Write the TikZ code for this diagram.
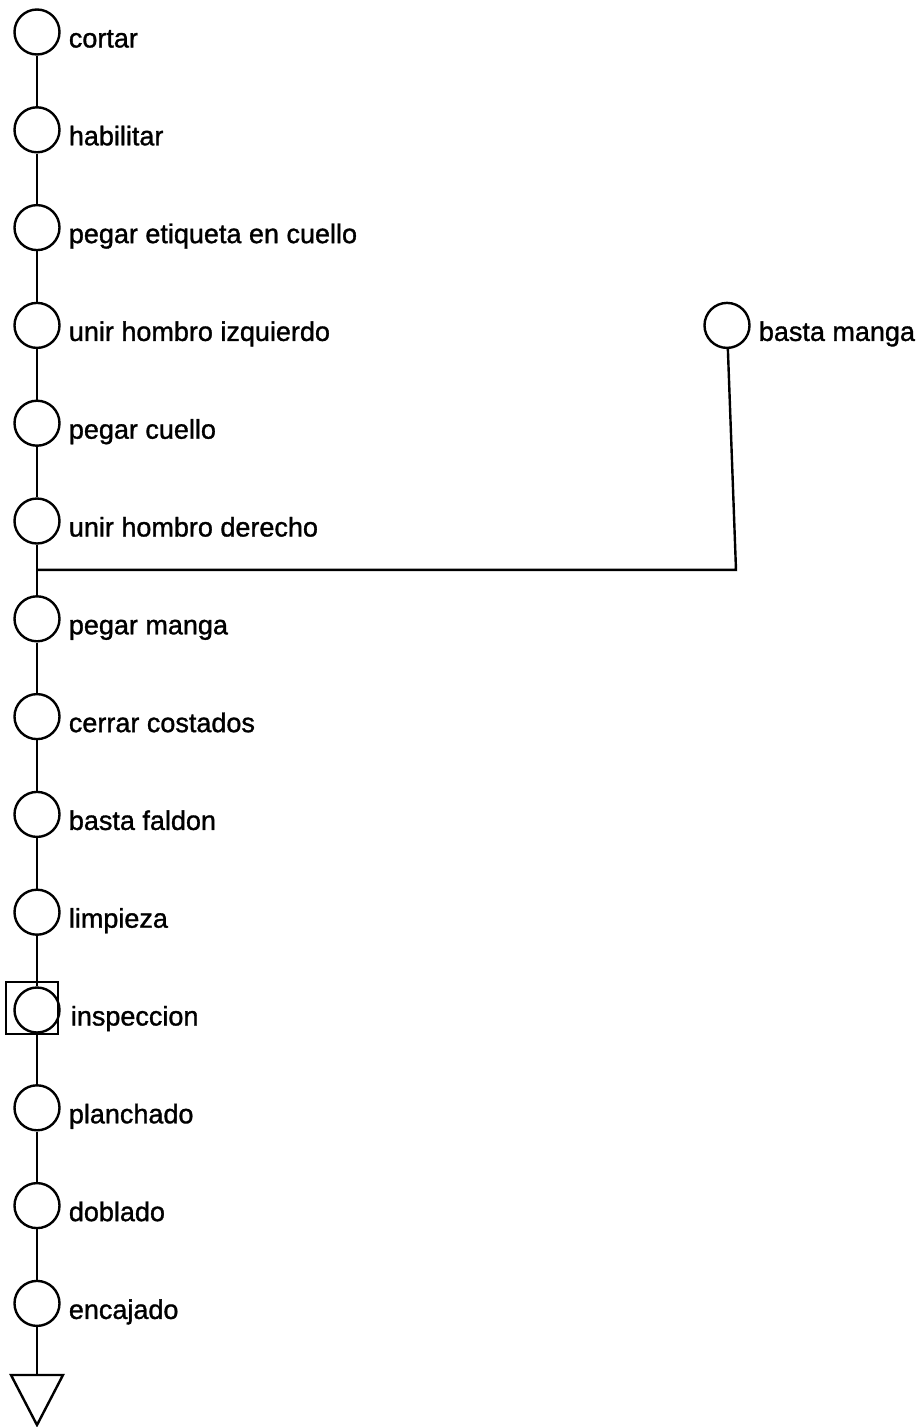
\documentclass[tikz,border=0pt]{standalone}
\usepackage{fontspec}
\setmainfont{Liberation Sans}
\newfontfamily\scanfont{Liberation Sans}[FakeBold=1.2]
\usetikzlibrary{positioning}

\tikzset{
  op/.style={draw, circle, line width=2.4pt, minimum size=45pt, inner sep=0pt},
  inspbox/.style={draw, rectangle, line width=1.8pt, minimum size=52pt, inner sep=0pt},
  lbl/.style={font=\scanfont\fontsize{27}{32}\selectfont, inner sep=0pt, text height=19pt, text depth=5pt},
  flow/.style={line width=2.4pt}
}

\begin{document}
\begin{tikzpicture}[x=1pt, y=-1pt, draw=black, node distance=97.8pt]
	\useasboundingbox (0,0) rectangle (923,1427);
	%operations
	\node[op] (cortar) at (37,32) {};
	\node[op, below of=cortar] (habilitar) {};
	\node[op, below of=habilitar] (etiqueta) {};
	\node[op, below of=etiqueta] (unirizq) {};
	\node[op, below of=unirizq] (cuello) {};
	\node[op, below of=cuello] (unirder) {};
	\node[op, below of=unirder] (pegmanga) {};
	\node[op, below of=pegmanga] (costados) {};
	\node[op, below of=costados] (faldon) {};
	\node[op, below of=faldon] (limpieza) {};
	\node[op, below of=limpieza] (inspeccion) {};
	\node[op, below of=inspeccion] (planchado) {};
	\node[op, below of=planchado] (doblado) {};
	\node[op, below of=doblado] (encajado) {};
	\node[op, right of=unirizq, node distance=690pt] (bastamanga) {};
	\node[inspbox] (inspsq) at ([xshift=-5pt, yshift=2pt]inspeccion) {};
	%labels
	\node[lbl, right=8pt of cortar, yshift=-8.5pt] (lcortar) {cortar};
	\node[lbl, right=8pt of habilitar, yshift=-8.5pt] (lhabilitar) {habilitar};
	\node[lbl, right=8pt of etiqueta, yshift=-8.5pt] (letiqueta) {pegar etiqueta en cuello};
	\node[lbl, right=8pt of unirizq, yshift=-8.5pt] (lunirizq) {unir hombro izquierdo};
	\node[lbl, right=8pt of cuello, yshift=-8.5pt] (lcuello) {pegar cuello};
	\node[lbl, right=8pt of unirder, yshift=-8.5pt] (lunirder) {unir hombro derecho};
	\node[lbl, right=8pt of pegmanga, yshift=-8.5pt] (lpegmanga) {pegar manga};
	\node[lbl, right=8pt of costados, yshift=-8.5pt] (lcostados) {cerrar costados};
	\node[lbl, right=8pt of faldon, yshift=-8.5pt] (lfaldon) {basta faldon};
	\node[lbl, right=8pt of limpieza, yshift=-8.5pt] (llimpieza) {limpieza};
	\node[lbl, right=10pt of inspeccion, yshift=-8.5pt] (linspeccion) {inspeccion};
	\node[lbl, right=8pt of planchado, yshift=-8.5pt] (lplanchado) {planchado};
	\node[lbl, right=8pt of doblado, yshift=-8.5pt] (ldoblado) {doblado};
	\node[lbl, right=8pt of encajado, yshift=-8.5pt] (lencajado) {encajado};
	\node[lbl, right=8pt of bastamanga, yshift=-8.5pt] (lbastamanga) {basta manga};
	%flow
	\coordinate[below of=unirder, node distance=48.9pt] (union);
	\coordinate (esquina) at ([xshift=9pt]bastamanga |- union);
	\coordinate[below of=encajado, node distance=71.6pt] (fin);
	\draw[flow] (cortar) -- (habilitar);
	\draw[flow] (habilitar) -- (etiqueta);
	\draw[flow] (etiqueta) -- (unirizq);
	\draw[flow] (unirizq) -- (cuello);
	\draw[flow] (cuello) -- (unirder);
	\draw[flow] (unirder) -- (pegmanga);
	\draw[flow] (pegmanga) -- (costados);
	\draw[flow] (costados) -- (faldon);
	\draw[flow] (faldon) -- (limpieza);
	\draw[flow] (limpieza) -- (inspeccion);
	\draw[flow] (inspeccion) -- (planchado);
	\draw[flow] (planchado) -- (doblado);
	\draw[flow] (doblado) -- (encajado);
	\draw[flow] (encajado) -- (fin);
	\draw[flow] (bastamanga) -- (esquina) -- (union);
	%storage
	\draw[flow] ([xshift=-26pt]fin) -- ([xshift=26pt]fin) -- ([yshift=-50pt]fin) -- cycle;
\end{tikzpicture}
\end{document}
